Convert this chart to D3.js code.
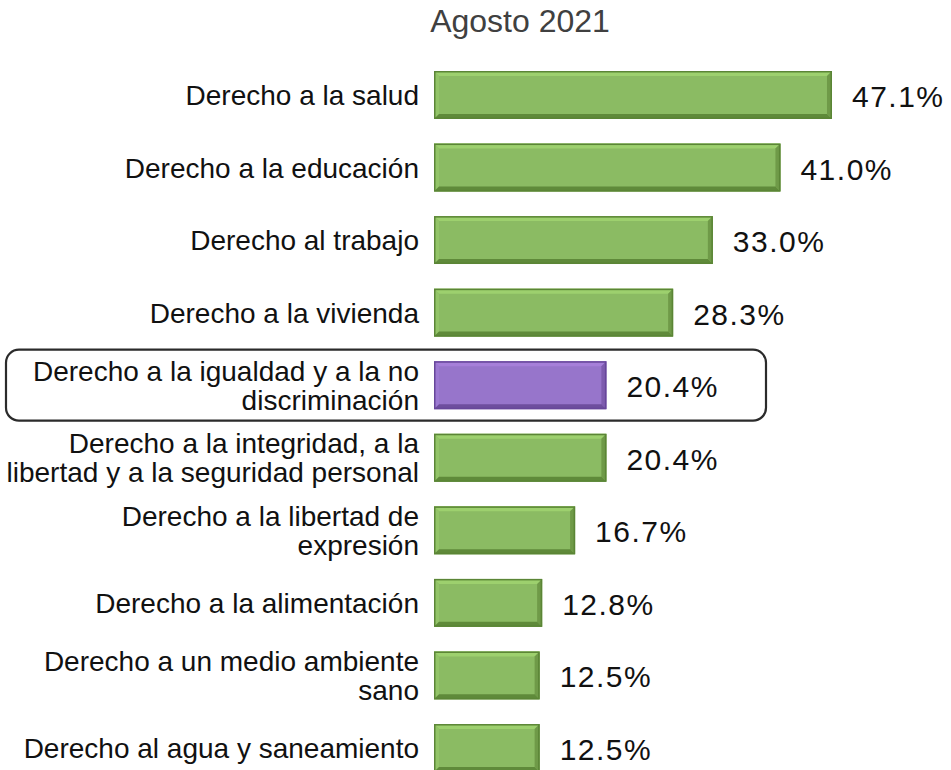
<!DOCTYPE html>
<html>
<head>
<meta charset="utf-8">
<script src="https://cdn.jsdelivr.net/npm/d3@7"></script>
<style>
  html, body { margin: 0; padding: 0; background: #ffffff; }
  svg { display: block; }
  text { font-family: "Liberation Sans", Arial, sans-serif; }
</style>
</head>
<body>
<div id="chart"></div>
<script>
const title = "Agosto 2021";
const categories = [
  "Derecho a la salud",
  "Derecho a la educación",
  "Derecho al trabajo",
  "Derecho a la vivienda",
  "Derecho a la igualdad y a la no|discriminación",
  "Derecho a la integridad, a la|libertad y a la seguridad personal",
  "Derecho a la libertad de|expresión",
  "Derecho a la alimentación",
  "Derecho a un medio ambiente|sano",
  "Derecho al agua y saneamiento"
];
const values = [47.1, 41.0, 33.0, 28.3, 20.4, 20.4, 16.7, 12.8, 12.5, 12.5];
const highlighted = ["Derecho a la igualdad y a la no|discriminación"];

const W = 951, H = 770;
const svg = d3.select("#chart").append("svg").attr("width", W).attr("height", H);

const x = d3.scaleLinear().domain([0, 50]).range([434, 434 + 8.45 * 50]);
const step = 72.56;
const y = d3.scaleBand()
  .domain(categories)
  .range([71 - 0.17 * step, 71 - 0.17 * step + 10 * step])
  .paddingInner(0.34)
  .paddingOuter(0.17);

const green = { fill: "#8bbb63", light: "#9dd06e", lightSide: "#93c468", dark: "#6f9a48", darker: "#5f8a3a", stroke: "#5b8536" };
const purple = { fill: "#9775cb", light: "#a67fd9", lightSide: "#9d7ad2", dark: "#7e5caf", darker: "#6e4e9e", stroke: "#67479a" };

// title
svg.append("text")
  .attr("x", 520).attr("y", 32)
  .attr("text-anchor", "middle")
  .attr("font-size", 32)
  .attr("fill", "#404040")
  .text(title);

// highlight box
highlighted.forEach(c => {
  const cy = y(c) + y.bandwidth() / 2;
  svg.append("rect")
    .attr("x", 6).attr("y", cy - 35.5)
    .attr("width", 760).attr("height", 71)
    .attr("rx", 13).attr("ry", 13)
    .attr("fill", "none")
    .attr("stroke", "#2b2b2b")
    .attr("stroke-width", 2.2);
});

const rows = svg.selectAll("g.row")
  .data(categories.map((c, i) => ({ c, v: values[i] })))
  .join("g").attr("class", "row");

const bv = 5; // bevel width
rows.each(function(d) {
  const g = d3.select(this);
  const pal = highlighted.includes(d.c) ? purple : green;
  const x0 = x(0), x1 = x(d.v), y0 = y(d.c), y1 = y(d.c) + y.bandwidth();
  g.append("rect").attr("x", x0).attr("y", y0).attr("width", x1 - x0).attr("height", y1 - y0).attr("fill", pal.fill);
  g.append("polygon").attr("points", [[x0, y0], [x1, y0], [x1 - bv, y0 + bv], [x0 + bv, y0 + bv]].join(" ")).attr("fill", pal.light);
  g.append("polygon").attr("points", [[x0, y0], [x0 + bv, y0 + bv], [x0 + bv, y1 - bv], [x0, y1]].join(" ")).attr("fill", pal.lightSide);
  g.append("polygon").attr("points", [[x1, y0], [x1, y1], [x1 - bv, y1 - bv], [x1 - bv, y0 + bv]].join(" ")).attr("fill", pal.dark);
  g.append("polygon").attr("points", [[x0, y1], [x0 + bv, y1 - bv], [x1 - bv, y1 - bv], [x1, y1]].join(" ")).attr("fill", pal.darker);
  g.append("rect").attr("x", x0 + 0.75).attr("y", y0 + 0.75).attr("width", x1 - x0 - 1.5).attr("height", y1 - y0 - 1.5)
    .attr("fill", "none").attr("stroke", pal.stroke).attr("stroke-width", 1.5);

  // category label
  const lines = d.c.split("|");
  const cy = y0 + y.bandwidth() / 2;
  const lh = 29;
  const t = g.append("text")
    .attr("text-anchor", "end")
    .attr("font-size", 28)
    .attr("fill", "#111");
  lines.forEach((ln, i) => {
    t.append("tspan")
      .attr("x", 419)
      .attr("y", cy + 10 + (i - (lines.length - 1) / 2) * lh)
      .text(ln);
  });

  // value label
  g.append("text")
    .attr("x", x1 + 20)
    .attr("y", cy + 12)
    .attr("font-size", 30)
    .attr("letter-spacing", 1.5)
    .attr("fill", "#111")
    .text(d3.format(".1f")(d.v) + "%");
});
</script>
</body>
</html>
